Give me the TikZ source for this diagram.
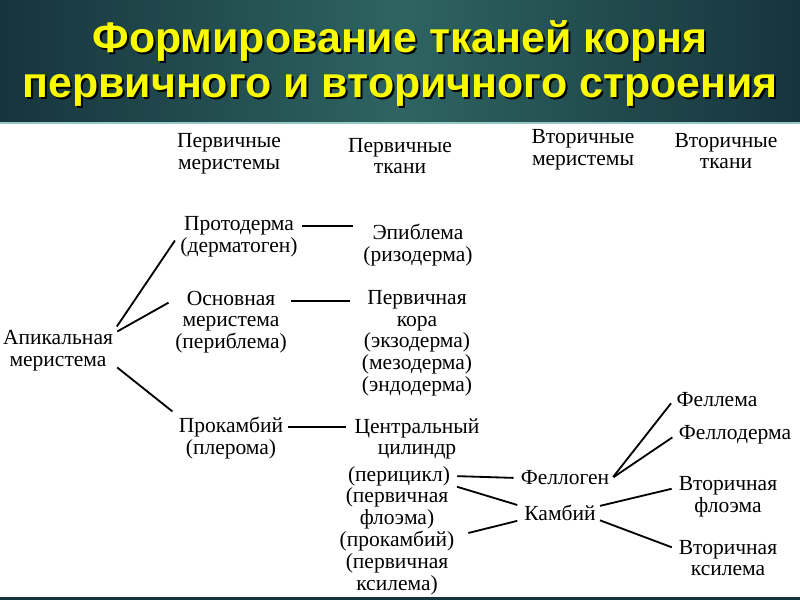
\documentclass[tikz,border=0pt]{standalone}
\usepackage{fontspec}
\setmainfont{Liberation Serif}
\newfontfamily\headfont{Liberation Sans}
\usepackage{tikz}
\usetikzlibrary{calc}
\definecolor{bgdark}{RGB}{22,52,60}
\definecolor{bglight}{RGB}{46,100,98}
\definecolor{bgedge}{RGB}{150,200,200}
\definecolor{titleyellow}{RGB}{250,250,0}

\begin{document}
\begin{tikzpicture}[
  x=0.025cm, y=-0.025cm,
  txt/.style={font=\fontsize{15.3}{15.4}\selectfont, align=center, inner sep=2pt},
  ttl/.style={font=\headfont\bfseries\fontsize{30.5}{32}\selectfont, align=center, inner sep=0pt},
  link/.style={line width=1.3pt, shorten <=1pt, shorten >=3pt}
]
\useasboundingbox (0,0) rectangle (800,600);
\fill[left color=bgdark, right color=bgdark, middle color=bglight] (0,0) rectangle (800,123);
\fill[bgedge] (0,122) rectangle (800,124);
\fill[bgdark] (0,597) rectangle (800,600);

\node[ttl, text=black] (titleshadow) at (402,65) {Формирование тканей корня\\первичного и вторичного строения};
\node[ttl, text=titleyellow] (title) at (400,63) {Формирование тканей корня\\первичного и вторичного строения};

\node[txt] (head1) at (229,154) {Первичные\\меристемы};
\node[txt] (head2) at (400,156) {Первичные\\ткани};
\node[txt] (head3) at (583,150) {Вторичные\\меристемы};
\node[txt] (head4) at (726,151) {Вторичные\\ткани};

\node[txt] (apical) at (58,351) {Апикальная\\меристема};
\node[txt] (proto) at (239,237) {Протодерма\\(дерматоген)};
\node[txt] (ground) at (231,322) {Основная\\меристема\\(периблема)};
\node[txt] (procamb) at (231,438) {Прокамбий\\(плерома)};

\node[txt] (epi) at (418,245) {Эпиблема\\(ризодерма)};
\node[txt] (cortex) at (417,343) {Первичная\\кора\\(экзодерма)\\(мезодерма)\\(эндодерма)};
\node[txt] (cyl) at (417,439) {Центральный\\цилиндр};
\node[txt] (pericycle) at (399,476) {(перицикл)};
\node[txt] (phloem1) at (397,508) {(первичная\\флоэма)};
\node[txt] (procamb2) at (397,541) {(прокамбий)};
\node[txt] (xylem1) at (397,574) {(первичная\\ксилема)};

\node[txt] (phellogen) at (565,478) {Феллоген};
\node[txt] (cambium) at (560,513) {Камбий};

\node[txt] (phellem) at (717,400) {Феллема};
\node[txt] (phelloderm) at (735,435) {Феллодерма};
\node[txt] (phloem2) at (728,497) {Вторичная\\флоэма};
\node[txt] (xylem2) at (728,558) {Вторичная\\ксилема};

\draw[link] (apical.north east) -- (proto.west);
\draw[link] (apical.18) -- (ground.160);
\draw[link] (apical.-15) -- (procamb.north west);
\draw[link, shorten >=5pt] (proto.10) -- (proto.10 -| epi.west);
\draw[link, shorten >=6pt] (ground.20) -- (ground.20 -| cortex.west);
\draw[link, shorten >=4pt] (procamb.11) -- (procamb.11 -| cyl.west);
\draw[link, shorten <=3pt] (pericycle.east) -- (phellogen.west);
\draw[link, shorten <=3pt] (pericycle.-10) -- (cambium.170);
\draw[link, shorten <=8pt] (procamb2.5) -- (cambium.-170);
\draw[link] (phellogen.east) -- (phellem.west);
\draw[link] (phellogen.east) -- (phelloderm.west);
\draw[link] (cambium.10) -- (phloem2.170);
\draw[link] (cambium.-10) -- (xylem2.170);
\end{tikzpicture}
\end{document}
